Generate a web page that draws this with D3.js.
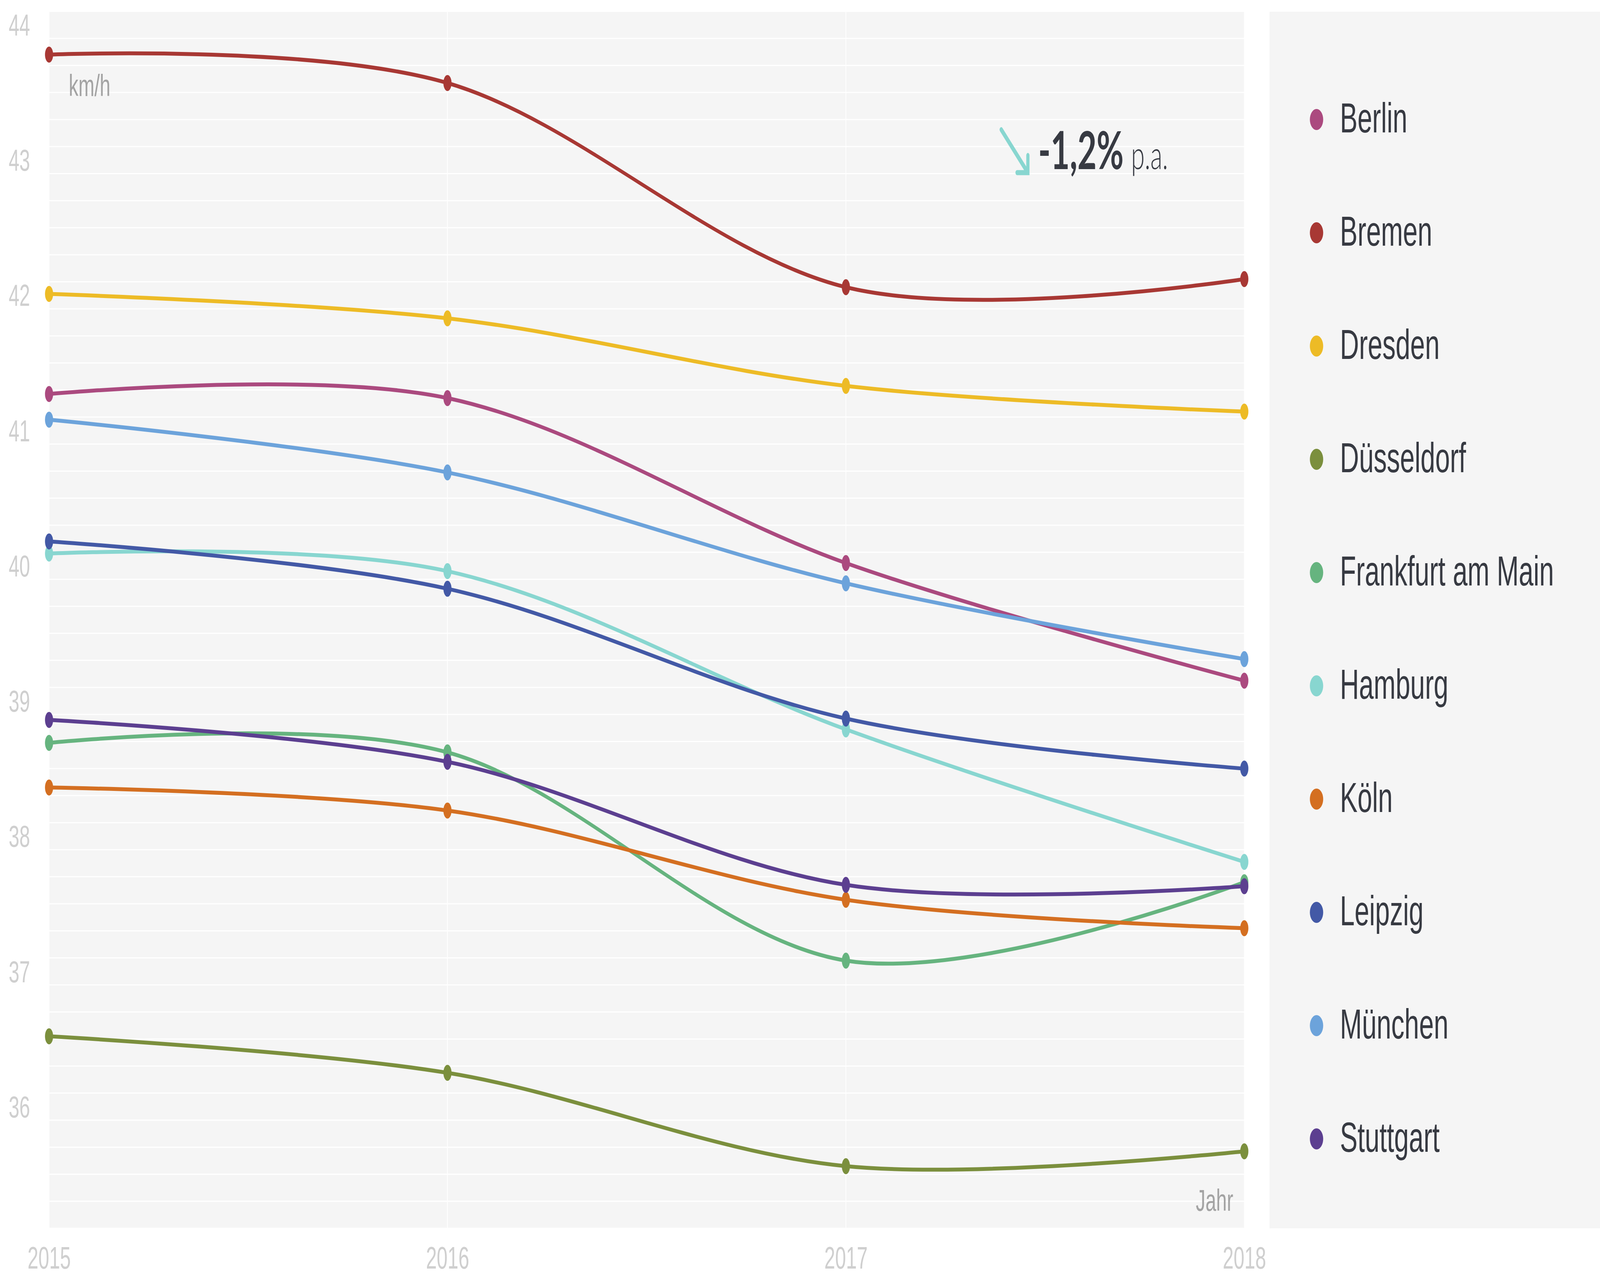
<!DOCTYPE html>
<html>
<head>
<meta charset="utf-8">
<script src="https://cdn.jsdelivr.net/npm/d3@7"></script>
<style>
  html, body { margin: 0; padding: 0; background: #fff; overflow: hidden; }
  svg { display: block; width: 100vw; height: 100vh; font-family: "Liberation Sans", Arial, sans-serif; }
</style>
</head>
<body>
<svg id="chart" viewBox="0 0 6491 3267" preserveAspectRatio="none"></svg>
<script>
// ---- data ----
const years = [2015, 2016, 2017, 2018];
const yTicks = [36, 37, 38, 39, 40, 41, 42, 43, 44];
const cities = ['Berlin', 'Bremen', 'Dresden', 'Düsseldorf', 'Frankfurt am Main',
                'Hamburg', 'Köln', 'Leipzig', 'München', 'Stuttgart'];
const colors = ['#ab4a7f', '#a83834', '#edbb26', '#7b8f3d', '#66b47f',
                '#88d6d0', '#d46f21', '#4359a6', '#6ca3db', '#5c3f90'];

const berlin     = [41.37, 41.34, 40.12, 39.25];
const bremen     = [43.88, 43.67, 42.16, 42.22];
const dresden    = [42.11, 41.93, 41.43, 41.24];
const duesseldorf= [36.62, 36.35, 35.66, 35.77];
const frankfurt  = [38.79, 38.72, 37.18, 37.76];
const hamburg    = [40.19, 40.06, 38.89, 37.91];
const koeln      = [38.46, 38.29, 37.63, 37.42];
const leipzig    = [40.28, 39.93, 38.97, 38.60];
const muenchen   = [41.18, 40.79, 39.97, 39.41];
const stuttgart  = [38.96, 38.65, 37.74, 37.73];
const series = [berlin, bremen, dresden, duesseldorf, frankfurt,
                hamburg, koeln, leipzig, muenchen, stuttgart];

const unitLabel = 'km/h';
const xLabel = 'Jahr';
const trendValue = '-1,2%';
const trendUnit = 'p.a.';

// ---- layout ----
const svg = d3.select('#chart');
const plot = { l: 199, r: 5048, t: 29, b: 3145 };
const legendBox = { l: 5150, r: 6491, t: 30, b: 3145 };

const x = d3.scaleLinear().domain([2015, 2018]).range([plot.l, plot.r]);
const y = d3.scaleLinear().domain([35.2, 44.2]).range([plot.b, plot.t]);

// plot background
svg.append('rect')
  .attr('x', plot.l).attr('y', plot.t)
  .attr('width', plot.r - plot.l).attr('height', plot.b - plot.t)
  .attr('fill', '#f5f5f5');

// grid (white, every 0.2 km/h and at every year)
const grid = svg.append('g');
grid.selectAll('line.h').data(y.ticks(45)).join('line')
  .attr('class', 'h')
  .attr('x1', plot.l).attr('x2', plot.r)
  .attr('y1', d => y(d)).attr('y2', d => y(d))
  .attr('stroke', '#ffffff').attr('stroke-width', 3);
grid.selectAll('line.v').data(years).join('line')
  .attr('class', 'v')
  .attr('x1', d => x(d)).attr('x2', d => x(d))
  .attr('y1', plot.t).attr('y2', plot.b)
  .attr('stroke', '#ffffff').attr('stroke-width', 3);

// y axis
const yAxis = svg.append('g')
  .attr('transform', `translate(${plot.l},0)`)
  .call(d3.axisLeft(y).tickValues(yTicks).tickSize(0).tickPadding(77).tickFormat(d3.format('d')));
yAxis.select('.domain').remove();
yAxis.selectAll('text')
  .attr('dy', '-0.1em')
  .style('font-size', '78px').style('font-family', '"Liberation Sans", Arial, sans-serif')
  .attr('fill', '#cfcfcf');

// x axis
const xAxis = svg.append('g')
  .attr('transform', `translate(0,${plot.b})`)
  .call(d3.axisBottom(x).tickValues(years).tickSize(0).tickPadding(47).tickFormat(d3.format('d')));
xAxis.select('.domain').remove();
xAxis.selectAll('text')
  .style('font-size', '79px').style('font-family', '"Liberation Sans", Arial, sans-serif')
  .attr('fill', '#cfcfcf');

// axis titles
svg.append('text')
  .attr('x', plot.l + 80).attr('y', plot.t + 217)
  .attr('font-size', 78).attr('fill', '#a3a3a3')
  .text(unitLabel);
svg.append('text')
  .attr('x', plot.r - 45).attr('y', plot.b - 45)
  .attr('text-anchor', 'end')
  .attr('font-size', 78).attr('fill', '#a3a3a3')
  .text(xLabel);

// lines + dots
const line = d3.line()
  .x((d, i) => x(years[i]))
  .y(d => y(d))
  .curve(d3.curveCardinal);

const seriesG = svg.append('g').selectAll('g').data(series).join('g');
seriesG.append('path')
  .attr('d', d => line(d))
  .attr('fill', 'none')
  .attr('stroke', (d, i) => colors[i])
  .attr('stroke-width', 10);
seriesG.each(function(d, i) {
  d3.select(this).selectAll('ellipse').data(d).join('ellipse')
    .attr('cx', (v, j) => x(years[j]))
    .attr('cy', v => y(v))
    .attr('rx', 16.5).attr('ry', 20.5)
    .attr('fill', colors[i]);
});

// trend annotation
const ann = svg.append('g').attr('transform', 'translate(4170,442)');
ann.append('path')
  .attr('d', 'M-108,-110 L-6,-6')
  .attr('stroke', '#88d6d0').attr('stroke-width', 13).attr('stroke-linecap', 'round')
  .attr('fill', 'none');
ann.append('path')
  .attr('d', 'M0,-44 L0,0 L-44,0')
  .attr('stroke', '#88d6d0').attr('stroke-width', 13).attr('stroke-linejoin', 'miter')
  .attr('stroke-linecap', 'round')
  .attr('fill', 'none');
const annText = svg.append('text')
  .attr('x', 4212).attr('y', 433)
  .attr('fill', '#373a42')
  .style('font-family', 'Lato, "Open Sans", sans-serif');
annText.append('tspan').attr('font-size', 134).attr('font-weight', 700).text(trendValue);
annText.append('tspan').attr('dx', 30).attr('font-size', 100).attr('font-weight', 300).text(trendUnit);

// legend
svg.append('rect')
  .attr('x', legendBox.l).attr('y', legendBox.t)
  .attr('width', legendBox.r - legendBox.l).attr('height', legendBox.b - legendBox.t)
  .attr('fill', '#f5f5f5');
const ly = d3.scalePoint().domain(cities).range([306, 2916]);
const items = svg.append('g').selectAll('g').data(cities).join('g')
  .attr('transform', d => `translate(5341,${ly(d)})`);
items.append('circle').attr('r', 27).attr('fill', (d, i) => colors[i]);
items.append('text')
  .attr('x', 95).attr('dy', '0.31em')
  .attr('font-size', 107).attr('fill', '#373a42')
  .text(d => d);
</script>
</body>
</html>
